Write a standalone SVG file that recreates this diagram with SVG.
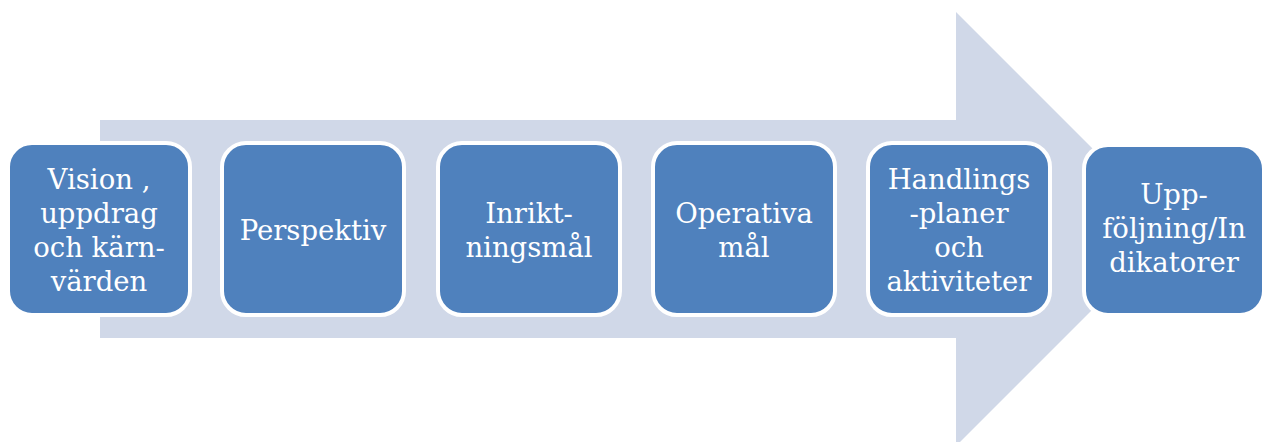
<svg xmlns="http://www.w3.org/2000/svg" width="1266" height="442" viewBox="0 0 1266 442">
<style>
.box{fill:#4F81BD;stroke:#FFFFFF;stroke-width:4}
.t{font-family:"DejaVu Serif","Liberation Serif",serif;font-size:27.5px;fill:#FFFFFF;text-anchor:middle}
</style>
<rect width="1266" height="442" fill="#FFFFFF"/>
<g id="connectors">
<polygon points="100,120 956,120 956,12 1173,229 956,446 956,338 100,338" fill="#D0D8E8"/>
</g>
<g id="n1"><rect class="box" x="8" y="143" width="182" height="172" rx="24"/>
<text class="t" x="99" y="189">Vision ,</text><text class="t" x="99" y="223">uppdrag</text><text class="t" x="99" y="257">och kärn-</text><text class="t" x="99" y="291">värden</text></g>
<g id="n2"><rect class="box" x="222" y="143" width="182" height="172" rx="24"/>
<text class="t" x="313" y="240">Perspektiv</text></g>
<g id="n3"><rect class="box" x="438" y="143" width="182" height="172" rx="24"/>
<text class="t" x="529" y="223">Inrikt-</text><text class="t" x="529" y="257">ningsmål</text></g>
<g id="n4"><rect class="box" x="653" y="143" width="182" height="172" rx="24"/>
<text class="t" x="744" y="223">Operativa</text><text class="t" x="744" y="257">mål</text></g>
<g id="n5"><rect class="box" x="868" y="143" width="182" height="172" rx="24"/>
<text class="t" x="959" y="189">Handlings</text><text class="t" x="959" y="223">-planer</text><text class="t" x="959" y="257">och</text><text class="t" x="959" y="291">aktiviteter</text></g>
<g id="n6"><rect class="box" x="1084" y="145" width="180" height="170" rx="24"/>
<text class="t" x="1174" y="204">Upp-</text><text class="t" x="1174" y="238">följning/In</text><text class="t" x="1174" y="272">dikatorer</text></g>
</svg>
